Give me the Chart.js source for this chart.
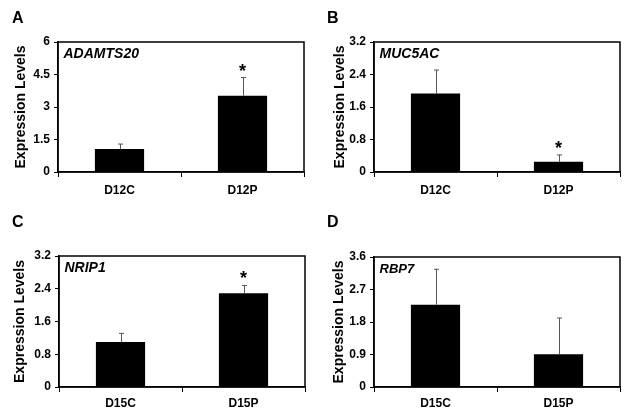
<!DOCTYPE html>
<html>
<head>
<meta charset="utf-8">
<script src="https://cdn.jsdelivr.net/npm/chart.js@4.4.1/dist/chart.umd.min.js"></script>
<style>
  html, body { margin: 0; padding: 0; background: #fff; }
  body { width: 627px; height: 412px; position: relative; overflow: hidden; }
  .panel { position: absolute; }
</style>
</head>
<body>
<div class="panel" style="left:0;top:0;width:313px;height:206px"><canvas id="chartA"></canvas></div>
<div class="panel" style="left:313px;top:0;width:314px;height:206px"><canvas id="chartB"></canvas></div>
<div class="panel" style="left:0;top:206px;width:313px;height:206px"><canvas id="chartC"></canvas></div>
<div class="panel" style="left:313px;top:206px;width:314px;height:206px"><canvas id="chartD"></canvas></div>
<script>
// Data
const daysD12 = ["D12C", "D12P"];
const daysD15 = ["D15C", "D15P"];

const adamts20 = [1.06, 3.52];
const adamts20Err = [0.23, 0.84];
const muc5ac = [1.93, 0.25];
const muc5acErr = [0.58, 0.17];
const nrip1 = [1.10, 2.29];
const nrip1Err = [0.21, 0.19];
const rbp7 = [2.28, 0.91];
const rbp7Err = [0.98, 1.00];

// significance marks (index of bar with *)
const starsA = [1];
const starsB = [1];
const starsC = [1];
const starsD = [];

const ticksA = [0, 1.5, 3, 4.5, 6];
const ticksB = [0, 0.8, 1.6, 2.4, 3.2];
const ticksC = [0, 0.8, 1.6, 2.4, 3.2];
const ticksD = [0, 0.9, 1.8, 2.7, 3.6];

const FONT = "'Liberation Sans', Arial, Helvetica, sans-serif";

// draws box, error bars, stars, gene name and panel letter
const extras = {
    id: "extras",
    afterDatasetsDraw(chart) {
        const o = chart.options.plugins.extras;
        const ctx = chart.ctx;
        const area = chart.chartArea;
        const y = chart.scales.y;
        const meta = chart.getDatasetMeta(0);
        const vals = chart.data.datasets[0].data;

        ctx.save();
        // error bars (upper only)
        ctx.strokeStyle = "#555";
        ctx.lineWidth = 1;
        meta.data.forEach((bar, i) => {
            const x = Math.round(bar.x) + 0.5;
            const top = y.getPixelForValue(vals[i] + o.err[i]);
            ctx.beginPath();
            ctx.moveTo(x, bar.y);
            ctx.lineTo(x, top);
            ctx.moveTo(x - 2.5, top);
            ctx.lineTo(x + 2.5, top);
            ctx.stroke();
        });

        // stars
        ctx.fillStyle = "#000";
        ctx.font = "bold 18px " + FONT;
        ctx.textAlign = "center";
        ctx.textBaseline = "alphabetic";
        o.stars.forEach(i => {
            const top = y.getPixelForValue(vals[i] + o.err[i]);
            ctx.fillText("*", meta.data[i].x, top - 1);
        });

        // frame
        ctx.strokeStyle = "#000";
        ctx.lineWidth = 1.5;
        ctx.strokeRect(area.left, area.top, area.right - area.left, area.bottom - area.top);

        // gene name
        ctx.textAlign = "left";
        ctx.font = o.geneFont + FONT;
        ctx.fillText(o.gene, area.left + 5.5, area.top + 15.5);

        // panel letter
        ctx.font = "bold 16px " + FONT;
        ctx.fillText(o.letter, o.letterX, o.letterY);
        ctx.restore();
    }
};

function makePanel(id, labels, values, err, stars, ticks, gene, geneFont, letter, lay) {
    const ctx = document.getElementById(id).getContext("2d");
    return new Chart(ctx, {
        type: "bar",
        data: {
            labels: labels,
            datasets: [{
                data: values,
                backgroundColor: "#000",
                borderWidth: 0,
                barPercentage: 0.4,
                categoryPercentage: 1
            }]
        },
        options: {
            responsive: true,
            maintainAspectRatio: false,
            animation: false,
            layout: { padding: { top: lay.top, right: lay.right, left: 0, bottom: 0 } },
            plugins: {
                legend: { display: false },
                tooltip: { enabled: false },
                extras: {
                    err: err, stars: stars, gene: gene, geneFont: geneFont,
                    letter: letter, letterX: lay.letterX, letterY: lay.letterY
                }
            },
            scales: {
                x: {
                    grid: { drawOnChartArea: false, drawTicks: true, tickLength: 5, color: "#000", lineWidth: 1, offset: true },
                    border: { display: true, color: "#000", width: 1.5 },
                    ticks: { color: "#000", font: { family: FONT, size: 12, weight: "bold" }, padding: lay.xpad, maxRotation: 0 },
                    afterFit: s => { s.height = lay.xh; }
                },
                y: {
                    min: ticks[0],
                    max: ticks[ticks.length - 1],
                    grid: { drawOnChartArea: false, drawTicks: true, tickLength: 4, color: "#000", lineWidth: 1 },
                    border: { display: true, color: "#000", width: 1.5 },
                    ticks: {
                        color: "#000",
                        font: { family: FONT, size: 12, weight: "bold" },
                        padding: 4,
                        callback: v => String(+v.toFixed(2))
                    },
                    afterBuildTicks: s => { s.ticks = ticks.map(v => ({ value: v })); },
                    title: {
                        display: true,
                        text: "Expression Levels",
                        color: "#000",
                        font: { family: FONT, size: 14, weight: "bold" },
                        padding: { top: lay.titlePad, bottom: 0 }
                    },
                    afterFit: s => { s.width = lay.yw; }
                }
            }
        },
        plugins: [extras]
    });
}

makePanel("chartA", daysD12, adamts20, adamts20Err, starsA, ticksA, "ADAMTS20", "italic bold 14px ", "A",
    { top: 42, right: 9, xh: 34, yw: 58, xpad: 6, titlePad: 12.5, letterX: 12, letterY: 23 });
makePanel("chartB", daysD12, muc5ac, muc5acErr, starsB, ticksB, "MUC5AC", "italic bold 14px ", "B",
    { top: 42, right: 7, xh: 34, yw: 61, xpad: 6, titlePad: 19, letterX: 14, letterY: 23 });
makePanel("chartC", daysD15, nrip1, nrip1Err, starsC, ticksC, "NRIP1", "italic bold 14px ", "C",
    { top: 50, right: 8, xh: 25, yw: 59, xpad: 4, titlePad: 11.5, letterX: 12, letterY: 21 });
makePanel("chartD", daysD15, rbp7, rbp7Err, starsD, ticksD, "RBP7", "italic bold 13px ", "D",
    { top: 51, right: 7, xh: 25, yw: 61, xpad: 4, titlePad: 18, letterX: 14, letterY: 21 });
</script>
</body>
</html>
